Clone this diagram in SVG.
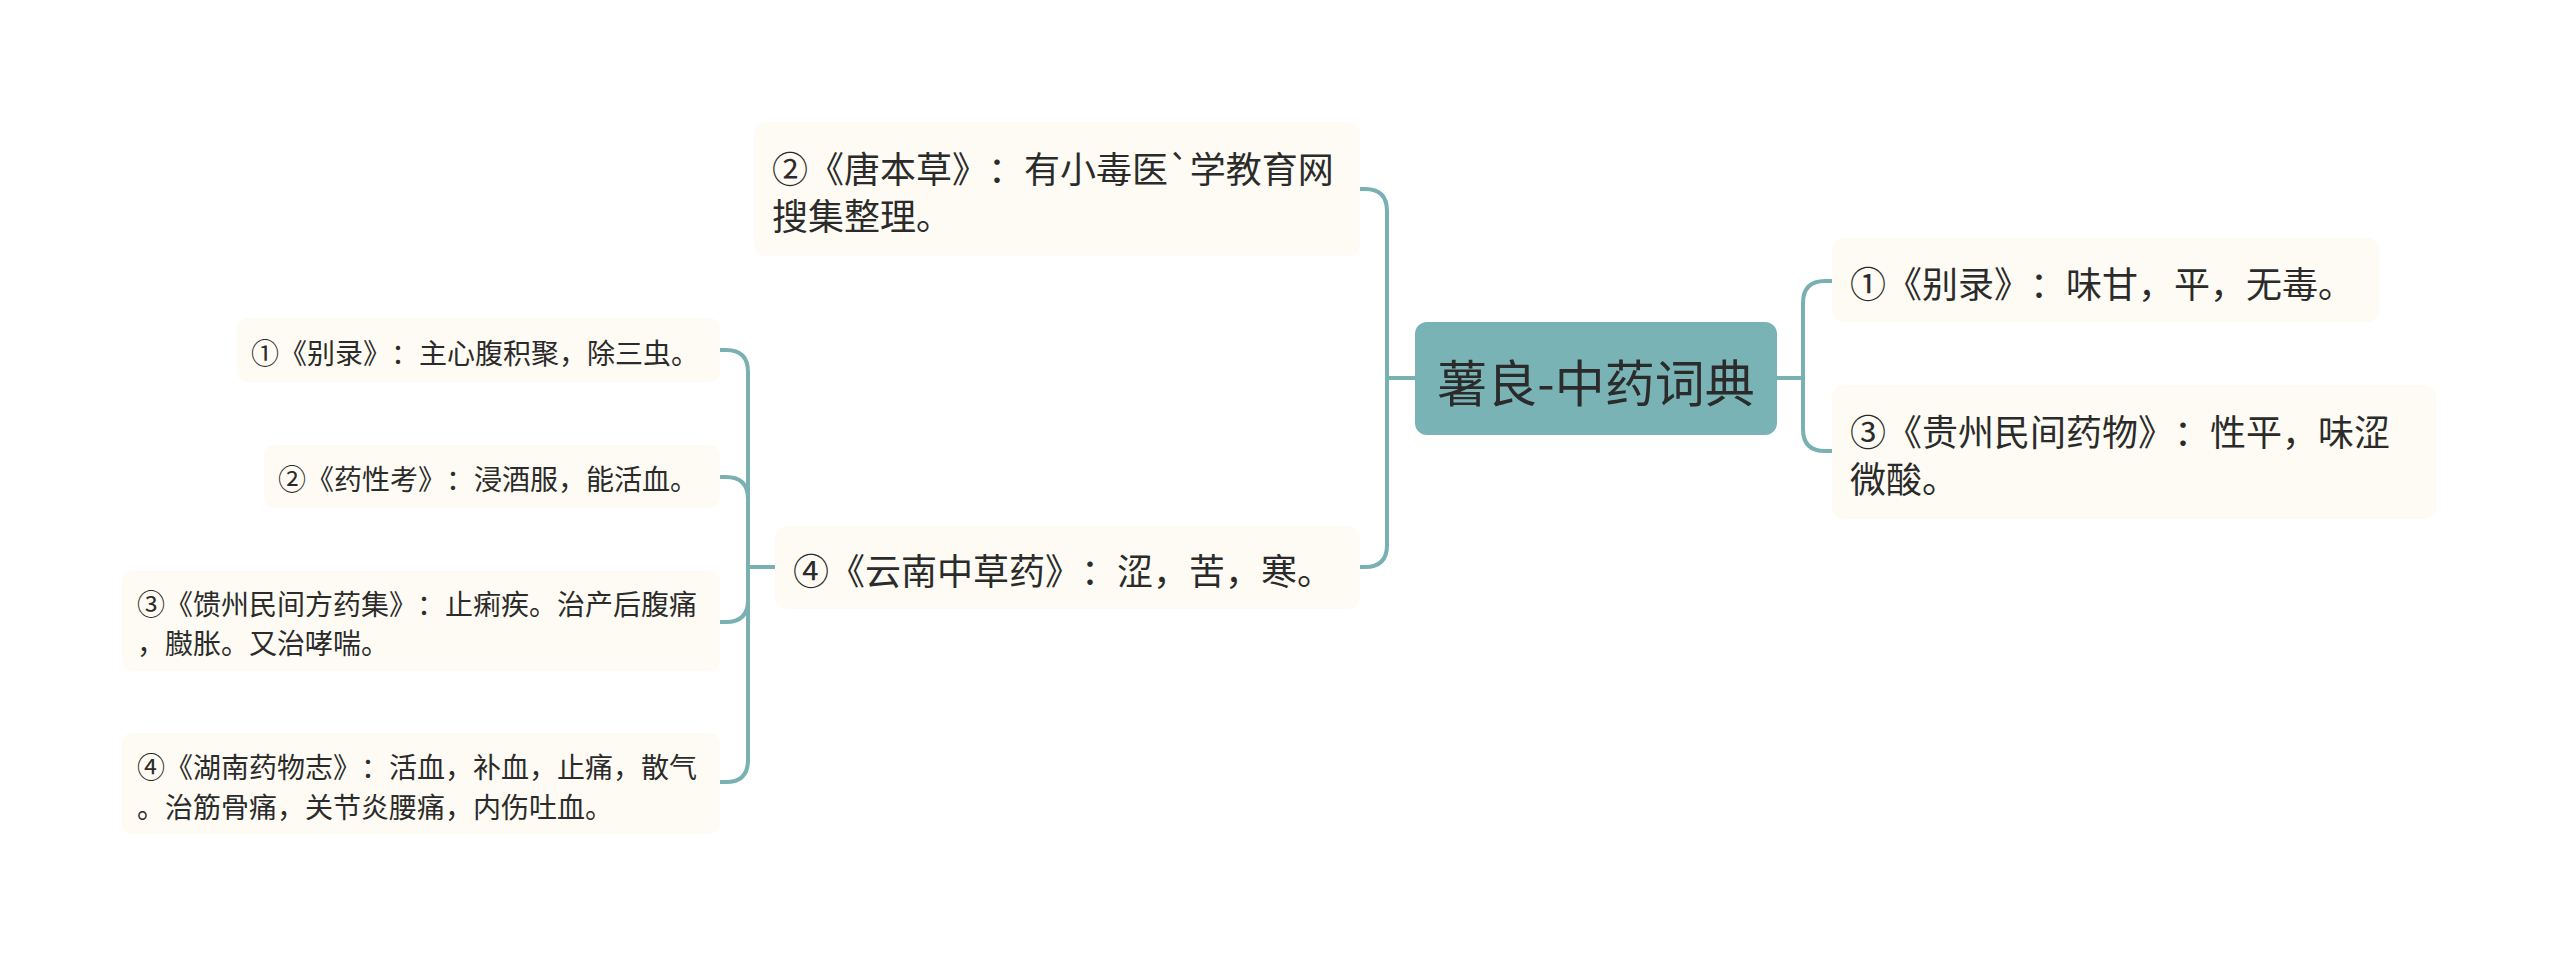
<svg xmlns="http://www.w3.org/2000/svg" width="2560" height="958" viewBox="0 0 2560 958">
<style>
.bg{fill:#ffffff}
.node{fill:#fdfbf3}
.root{fill:#79b3b5}
.t{font-family:"Noto Sans CJK SC","Noto Sans",sans-serif;fill:#2b2b2b;dominant-baseline:central;text-spacing-trim:space-all}
.t0{font-size:50px}
.t1{font-size:36px}
.t2{font-size:28px}
.c{fill:none;stroke:#79b1b3;stroke-width:4;stroke-linecap:round;stroke-linejoin:round}
</style>
<rect class="bg" x="0" y="0" width="2560" height="958"/>
<g id="connectors">
  <path class="c" d="M1777,378 H1803 V303 Q1803,281 1825,281 H1832"/>
  <path class="c" d="M1777,378 H1803 V429 Q1803,451 1825,451 H1832"/>
  <path class="c" d="M1415,378 H1387 V211 Q1387,189 1365,189 H1360"/>
  <path class="c" d="M1415,378 H1387 V545 Q1387,567 1365,567 H1360"/>
  <path class="c" d="M775,567 H748 V372 Q748,350 726,350 H720"/>
  <path class="c" d="M775,567 H748 V499 Q748,477 726,477 H720"/>
  <path class="c" d="M775,567 H748 V600 Q748,622 726,622 H720"/>
  <path class="c" d="M775,567 H748 V760 Q748,782 726,782 H720"/>
</g>
<g id="root">
  <rect class="root" x="1415" y="322" width="362" height="113" rx="12"/>
  <text class="t t0" x="1596" y="380" text-anchor="middle">薯良-中药词典</text>
</g>
<g id="r1">
  <rect class="node" x="1832" y="238" width="547" height="84" rx="12"/>
  <text class="t t1" x="1850" y="282">①《别录》：味甘，平，无毒。</text>
</g>
<g id="r2">
  <rect class="node" x="1832" y="385" width="604" height="134" rx="12"/>
  <text class="t t1" x="1850" y="430">③《贵州民间药物》：性平，味涩</text>
  <text class="t t1" x="1850" y="477">微酸。</text>
</g>
<g id="l1">
  <rect class="node" x="754" y="122" width="606" height="134" rx="12"/>
  <text class="t t1" x="772" y="167">②《唐本草》：有小毒医`学教育网</text>
  <text class="t t1" x="772" y="214">搜集整理。</text>
</g>
<g id="l2">
  <rect class="node" x="775" y="526" width="585" height="83" rx="12"/>
  <text class="t t1" x="793" y="569">④《云南中草药》：涩，苦，寒。</text>
</g>
<g id="ll1">
  <rect class="node" x="237" y="318" width="483" height="64" rx="10"/>
  <text class="t t2" x="251" y="352">①《别录》：主心腹积聚，除三虫。</text>
</g>
<g id="ll2">
  <rect class="node" x="264" y="445" width="456" height="63" rx="10"/>
  <text class="t t2" x="278" y="478">②《药性考》：浸酒服，能活血。</text>
</g>
<g id="ll3">
  <rect class="node" x="122" y="571" width="598" height="100" rx="10"/>
  <text class="t t2" x="137" y="603">③《馈州民间方药集》：止痢疾。治产后腹痛</text>
  <text class="t t2" x="137" y="642">，臌胀。又治哮喘。</text>
</g>
<g id="ll4">
  <rect class="node" x="122" y="733" width="598" height="101" rx="10"/>
  <text class="t t2" x="137" y="766">④《湖南药物志》：活血，补血，止痛，散气</text>
  <text class="t t2" x="137" y="806">。治筋骨痛，关节炎腰痛，内伤吐血。</text>
</g>
</svg>
